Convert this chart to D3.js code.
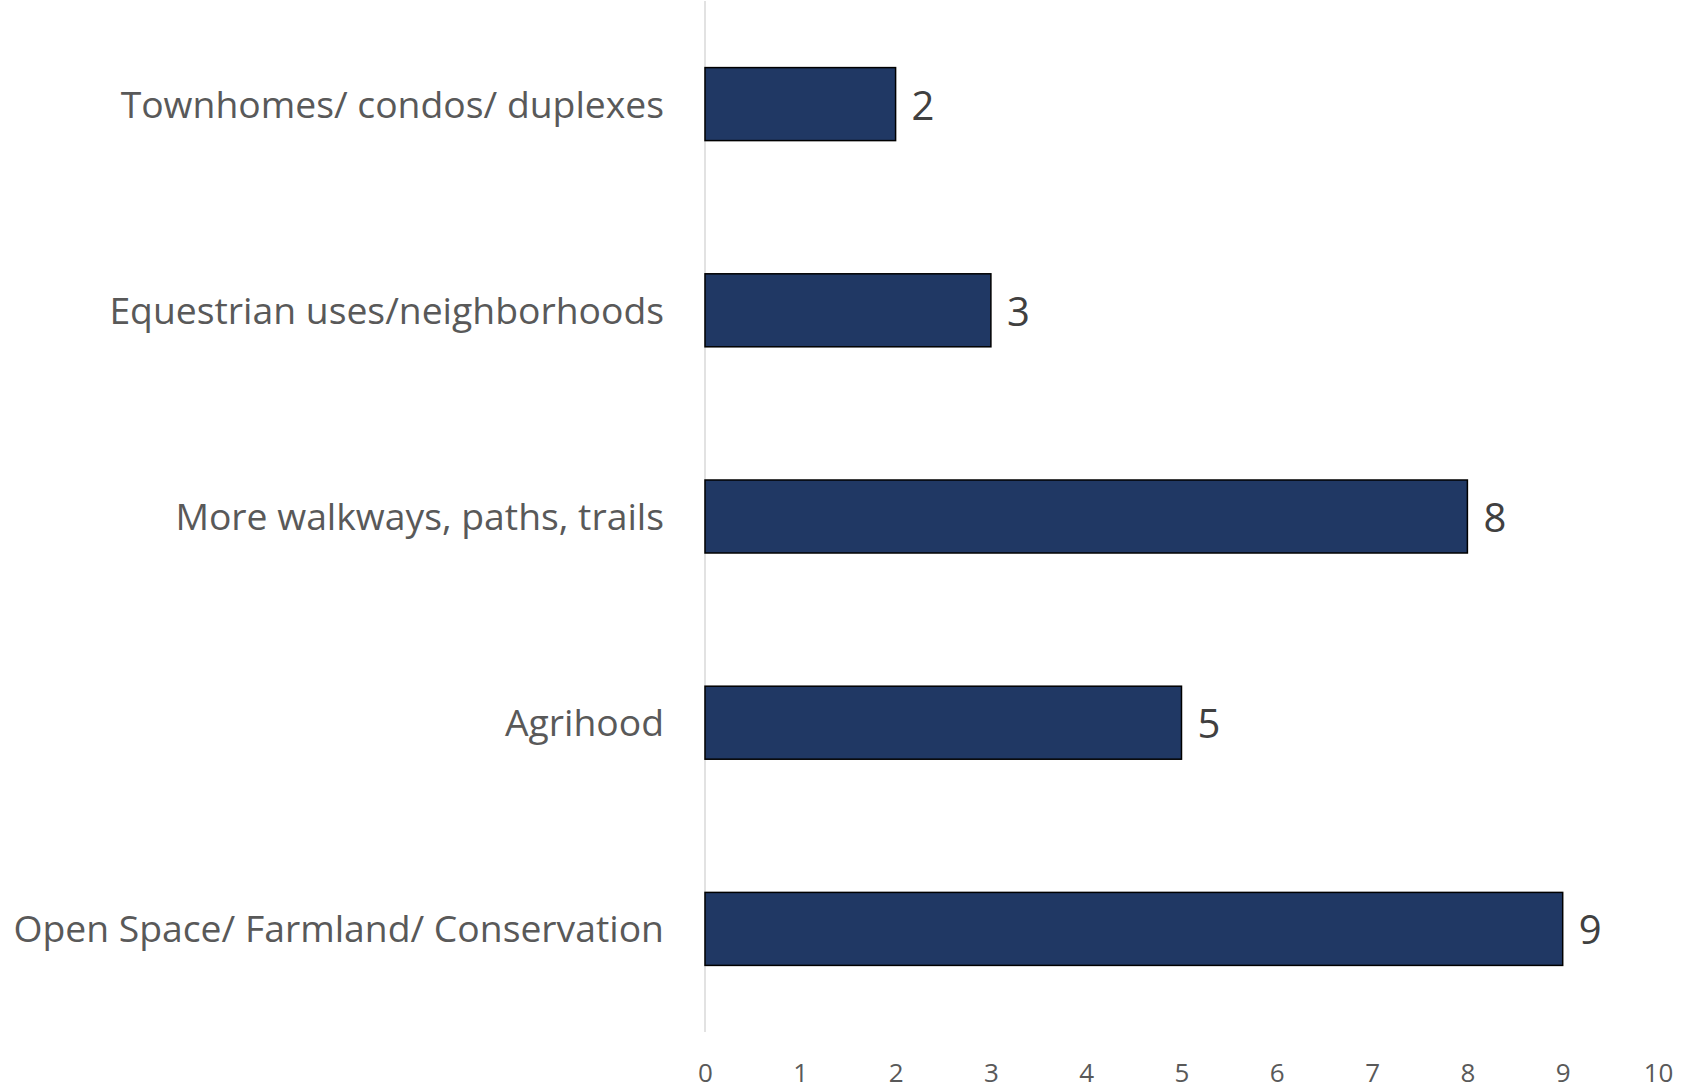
<!DOCTYPE html>
<html>
<head>
<meta charset="utf-8">
<script src="https://cdn.jsdelivr.net/npm/d3@7"></script>
<style>
  html, body { margin: 0; padding: 0; background: #ffffff; }
  svg { display: block; }
</style>
</head>
<body>
<svg id="chart" width="1682" height="1090"></svg>
<script>
const categories = [
  "Townhomes/ condos/ duplexes",
  "Equestrian uses/neighborhoods",
  "More walkways, paths, trails",
  "Agrihood",
  "Open Space/ Farmland/ Conservation"
];
const values = [2, 3, 8, 5, 9];
const xTicks = [0, 1, 2, 3, 4, 5, 6, 7, 8, 9, 10];

const svg = d3.select("#chart");
const font = "'Open Sans', 'Noto Sans', sans-serif";

const x = d3.scaleLinear().domain([0, 10]).range([705, 1658]);
const y = d3.scaleBand().domain(categories).range([1, 1032])
  .paddingInner(0.646).paddingOuter(0.323);

// vertical axis line
svg.append("line")
  .attr("x1", x(0)).attr("x2", x(0))
  .attr("y1", y.range()[0]).attr("y2", y.range()[1])
  .attr("stroke", "#d9d9d9").attr("stroke-width", 1.5);

// bars
svg.append("g").selectAll("rect").data(values).join("rect")
  .attr("x", x(0))
  .attr("y", (d, i) => y(categories[i]))
  .attr("width", d => x(d) - x(0))
  .attr("height", y.bandwidth())
  .attr("fill", "#203864")
  .attr("stroke", "#000000")
  .attr("stroke-width", 1.5);

// value labels
svg.append("g").selectAll("text").data(values).join("text")
  .attr("x", d => x(d) + 16)
  .attr("y", (d, i) => y(categories[i]) + y.bandwidth() / 2 + 1)
  .attr("dy", "0.36em")
  .attr("font-family", font)
  .attr("font-size", 40)
  .attr("fill", "#404040")
  .text(d => d);

// category labels
svg.append("g").selectAll("text").data(categories).join("text")
  .attr("x", x(0) - 41)
  .attr("y", d => y(d) + y.bandwidth() / 2)
  .attr("dy", "0.36em")
  .attr("text-anchor", "end")
  .attr("font-family", font)
  .attr("font-size", 37.3)
  .attr("fill", "#595959")
  .text(d => d);

// x axis tick labels
const xAxis = d3.axisBottom(x).tickValues(xTicks).tickSize(0).tickPadding(0).tickFormat(d3.format("d"));
const gx = svg.append("g").attr("transform", "translate(0,1064)").call(xAxis);
gx.select(".domain").remove();
gx.selectAll("text")
  .attr("font-family", font)
  .attr("font-size", 26)
  .attr("fill", "#595959");
</script>
</body>
</html>
